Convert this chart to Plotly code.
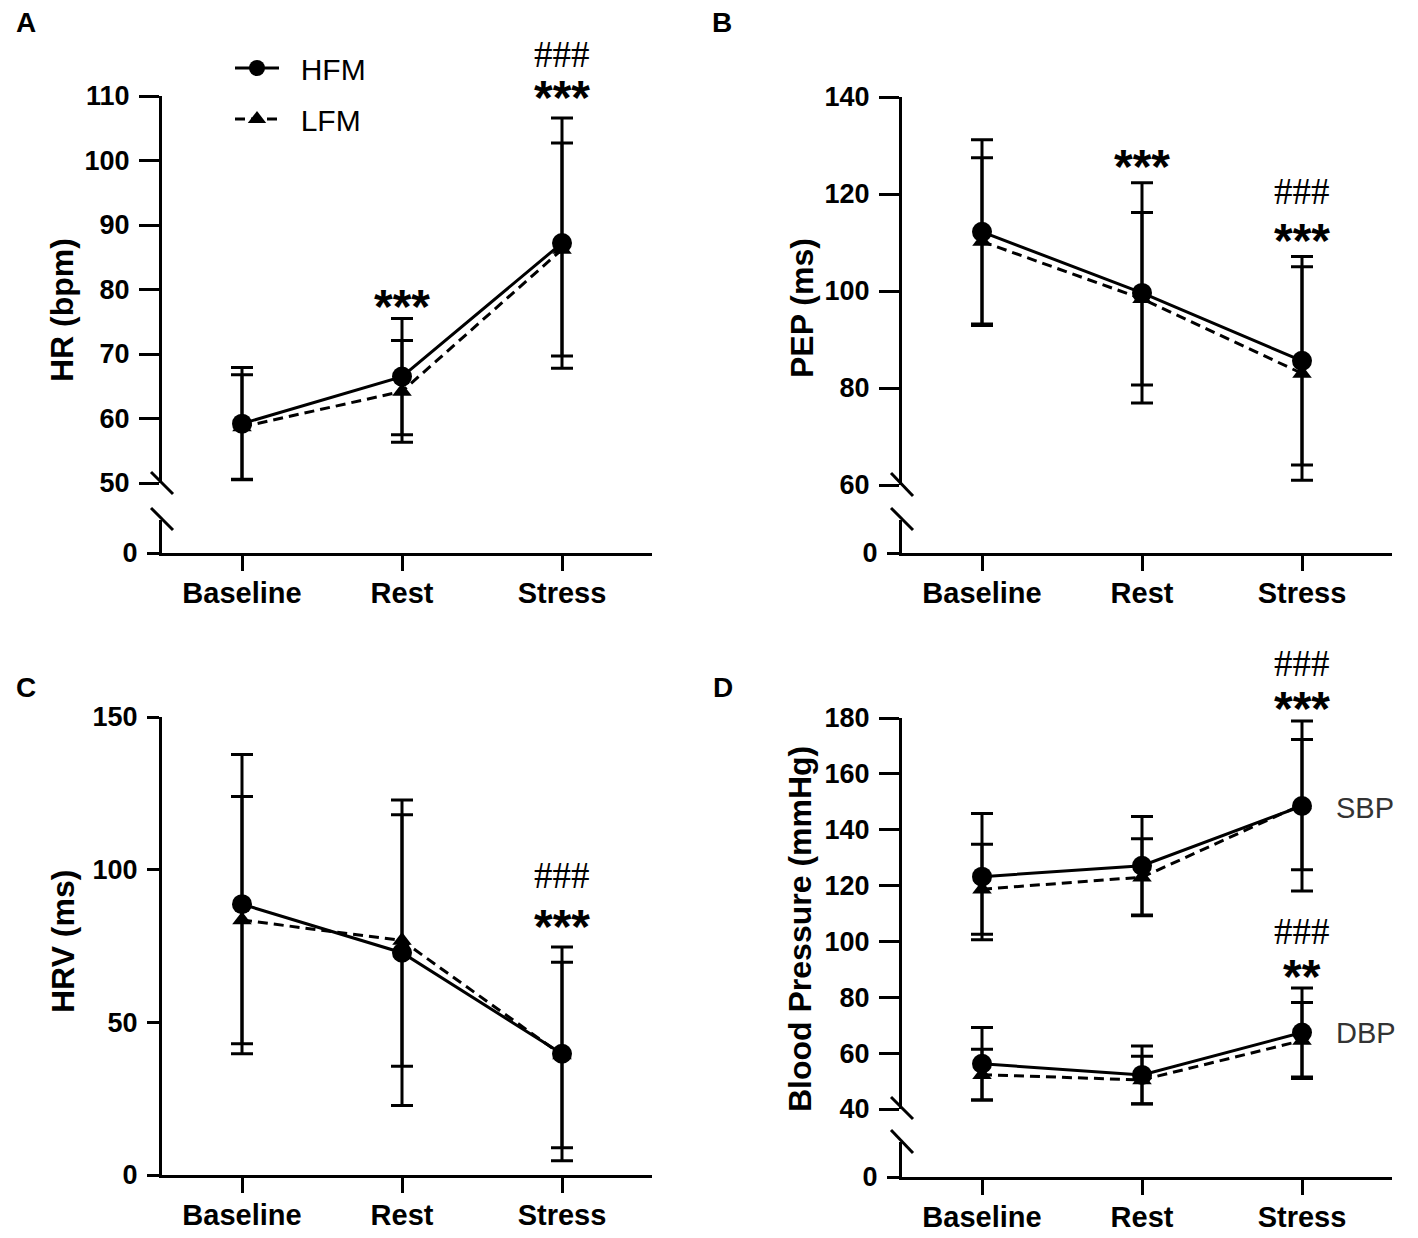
import plotly.graph_objects as go

W, H = 1418, 1238
FONT = "Arial, Liberation Sans, sans-serif"
PAGE_PAD = 8  # default body margin of the html page

categories = ["Baseline", "Rest", "Stress"]

# panel A: heart rate (mean, SD)
hr_hfm = [59.2, 66.5, 87.2]
hr_hfm_sd = [8.7, 9.0, 19.4]
hr_lfm = [58.7, 64.2, 86.2]
hr_lfm_sd = [8.1, 7.9, 16.5]
hr_ticks = [50, 60, 70, 80, 90, 100, 110]

# panel B: pre-ejection period
pep_hfm = [112.2, 99.6, 85.6]
pep_hfm_sd = [19.0, 22.7, 21.5]
pep_lfm = [110.2, 98.4, 83.0]
pep_lfm_sd = [17.3, 17.8, 22.0]
pep_ticks = [60, 80, 100, 120, 140]

# panel C: heart rate variability
hrv_hfm = [88.7, 72.8, 39.7]
hrv_hfm_sd = [49.0, 50.0, 35.0]
hrv_lfm = [83.5, 76.8, 39.3]
hrv_lfm_sd = [40.5, 41.2, 30.4]
hrv_ticks = [0, 50, 100, 150]

# panel D: blood pressure
sbp_hfm = [123.2, 127.1, 148.5]
sbp_hfm_sd = [22.6, 17.6, 30.4]
sbp_lfm = [118.7, 123.0, 149.0]
sbp_lfm_sd = [16.1, 13.8, 23.3]
dbp_hfm = [56.2, 52.2, 67.4]
dbp_hfm_sd = [13.0, 10.4, 15.9]
dbp_lfm = [52.3, 50.4, 64.5]
dbp_lfm_sd = [9.1, 8.5, 13.6]
bp_ticks = [40, 60, 80, 100, 120, 140, 160, 180]

ranges = {"y2": [50, 110], "y4": [60, 140], "y5": [0, 150], "y7": [40, 180]}


def px(x):
    return (x - PAGE_PAD) / W


def py(y):
    return 1 - (y - PAGE_PAD) / H


fig = go.Figure()

# empty traces so the short "0" segments below the breaks get their own subplot
for xa, ya in [("x", "y"), ("x2", "y3"), ("x4", "y6")]:
    fig.add_trace(go.Scatter(x=categories, y=[None] * 3, xaxis=xa, yaxis=ya,
                             mode="none", showlegend=False, hoverinfo="skip"))


def add_series(xa, ya, mean, sd, group, legend=False):
    hfm = group == "HFM"
    fig.add_trace(go.Scatter(
        x=categories, y=mean, xaxis=xa, yaxis=ya,
        mode="lines+markers", name="\u00a0\u00a0" + group,
        line=dict(color="black", width=3, dash="solid" if hfm else "10px,6px"),
        marker=dict(symbol="circle" if hfm else "triangle-up",
                    size=20 if hfm else 17, color="black"),
        error_y=dict(type="data", array=sd, visible=True, color="black",
                     thickness=3, width=11),
        cliponaxis=False, showlegend=legend,
        legendgroup=group if legend else None,
        legendrank=1 if hfm else 2,
    ))


add_series("x", "y2", hr_lfm, hr_lfm_sd, "LFM", legend=True)
add_series("x", "y2", hr_hfm, hr_hfm_sd, "HFM", legend=True)
add_series("x2", "y4", pep_lfm, pep_lfm_sd, "LFM")
add_series("x2", "y4", pep_hfm, pep_hfm_sd, "HFM")
add_series("x3", "y5", hrv_lfm, hrv_lfm_sd, "LFM")
add_series("x3", "y5", hrv_hfm, hrv_hfm_sd, "HFM")
add_series("x4", "y7", sbp_lfm, sbp_lfm_sd, "LFM")
add_series("x4", "y7", sbp_hfm, sbp_hfm_sd, "HFM")
add_series("x4", "y7", dbp_lfm, dbp_lfm_sd, "LFM")
add_series("x4", "y7", dbp_hfm, dbp_hfm_sd, "HFM")

base = dict(showline=True, linecolor="black", linewidth=3, ticks="outside",
            tickcolor="black", tickwidth=3, showgrid=False, zeroline=False,
            fixedrange=True)
xrange = [-0.5, 2.5625]


def xax(left, right, anchor):
    return dict(base, domain=[px(left), px(right)], range=xrange, anchor=anchor,
                ticklen=15, ticklabelstandoff=-3, type="category",
                tickfont=dict(family=FONT, size=29, color="black", weight="bold"))


def yax(bottom, top, rng, ticks, anchor, ticklen=20):
    return dict(base, domain=[py(bottom), py(top)], range=rng, tickvals=ticks,
                anchor=anchor, ticklen=ticklen, ticklabelstandoff=4,
                tickfont=dict(family=FONT, size=27, color="black", weight="bold"))


fig.update_layout(
    xaxis=xax(162, 652, "y"),
    yaxis=yax(553, 520, [0, 1], [0], "x", 12),
    yaxis2=yax(483, 96, ranges["y2"], hr_ticks, "x"),
    xaxis2=xax(902, 1392, "y3"),
    yaxis3=yax(553, 520, [0, 1], [0], "x2", 12),
    yaxis4=yax(485, 97, ranges["y4"], pep_ticks, "x2"),
    xaxis3=xax(162, 652, "y5"),
    yaxis5=yax(1175, 717, ranges["y5"], hrv_ticks, "x3", 12),
    xaxis4=xax(902, 1392, "y6"),
    yaxis6=yax(1177, 1142, [0, 1], [0], "x4", 12),
    yaxis7=yax(1109, 718, ranges["y7"], bp_ticks, "x4"),
)

# axis break marks
shapes = []
for x0, marks in [(151, [(472, 494), (508, 530)]),
                  (891, [(473, 496), (508, 530)]),
                  (891, [(1097, 1119), (1130, 1153)])]:
    for y0, y1 in marks:
        shapes.append(dict(type="line", xref="paper", yref="paper",
                           x0=px(x0), x1=px(x0 + 22), y0=py(y0), y1=py(y1),
                           line=dict(color="black", width=3)))

ann = []
for txt, x, y in [("A", 26, 22), ("B", 722, 22), ("C", 26, 688), ("D", 723, 688)]:
    ann.append(dict(text=txt, x=px(x), y=py(y), xref="paper", yref="paper",
                    xanchor="center", yanchor="middle", showarrow=False,
                    font=dict(family=FONT, size=28, color="black", weight="bold")))

for txt, x, y in [("HR (bpm)", 62, 310), ("PEP (ms)", 802, 308),
                  ("HRV (ms)", 63, 942), ("Blood Pressure (mmHg)", 800, 929)]:
    ann.append(dict(text=txt, x=px(x), y=py(y), xref="paper", yref="paper",
                    xanchor="center", yanchor="middle", textangle=-90, showarrow=False,
                    font=dict(family=FONT, size=32, color="black", weight="bold")))


def frac(ya, v):
    lo, hi = ranges[ya]
    return (v - lo) / (hi - lo)


stars = [("x", "y2", "Rest", 78.7, "***"), ("x", "y2", "Stress", 111.2, "***"),
         ("x2", "y4", "Rest", 127.6, "***"), ("x2", "y4", "Stress", 112.2, "***"),
         ("x3", "y5", "Stress", 84.2, "***"),
         ("x4", "y7", "Stress", 186.6, "***"), ("x4", "y7", "Stress", 90.5, "**")]
for xa, ya, cat, y, txt in stars:
    ann.append(dict(text=txt, x=cat, y=frac(ya, y), xref=xa, yref=ya + " domain",
                    showarrow=False, yshift=-9, yanchor="middle",
                    font=dict(family=FONT, size=48, color="black", weight="bold")))

hashes = [("x", "y2", 116.4), ("x2", "y4", 120.6), ("x3", "y5", 98.0),
          ("x4", "y7", 199.4), ("x4", "y7", 103.6)]
for xa, ya, y in hashes:
    ann.append(dict(text="###", x="Stress", y=frac(ya, y), xref=xa, yref=ya + " domain",
                    showarrow=False, yanchor="middle",
                    font=dict(family="Times New Roman, Liberation Serif, serif",
                              size=37, color="black")))

for txt, y in [("SBP", 147.9), ("DBP", 67.1)]:
    ann.append(dict(text=txt, x=2.2, y=y, xref="x4", yref="y7", xanchor="left",
                    yanchor="middle", showarrow=False,
                    font=dict(family=FONT, size=29, color="#333333")))

fig.update_layout(
    width=W, height=H,
    margin=dict(l=0, r=0, t=0, b=0, autoexpand=False),
    paper_bgcolor="white", plot_bgcolor="white",
    shapes=shapes, annotations=ann,
    legend=dict(x=px(230), y=py(42), xanchor="left", yanchor="top",
                font=dict(family=FONT, size=30, color="black"),
                bgcolor="rgba(0,0,0,0)", itemwidth=44,
                traceorder="grouped", tracegroupgap=9),
)

fig.write_html("out.html")
